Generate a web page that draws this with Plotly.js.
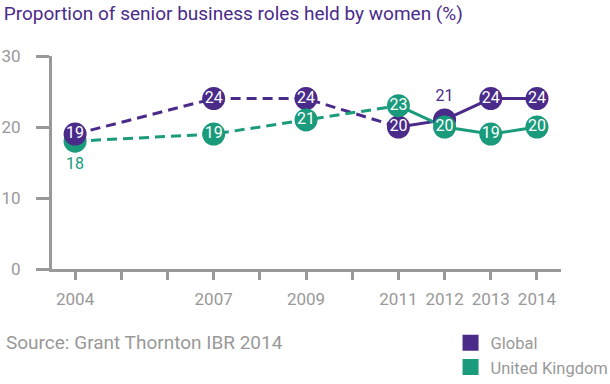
<!DOCTYPE html>
<html>
<head>
<meta charset="utf-8">
<script src="https://cdn.plot.ly/plotly-3.0.1.min.js"></script>
<style>html,body{margin:0;padding:0;background:#fff;}#chart{width:610px;height:384px;}</style>
</head>
<body>
<div id="chart"></div>
<script>
// ---- data ----
const years = [2004, 2007, 2009, 2011, 2012, 2013, 2014];
const globalVals = [19, 24, 24, 20, 21, 24, 24];
const ukVals = [18, 19, 21, 23, 20, 19, 20];
const tickYears = [2004, 2005, 2006, 2007, 2008, 2009, 2010, 2011, 2012, 2013, 2014];
const tickLabels = ['2004', '', '', '2007', '', '2009', '', '2011', '2012', '2013', '2014'];
const seriesNames = ['Global', 'United Kingdom'];
const dashedUntil = 2011;
const titleText = 'Proportion of senior business roles held by women (%)';
const sourceText = 'Source: Grant Thornton IBR 2014';

// ---- style ----
const PURPLE = '#4a2b8a';
const GREEN = '#1a9b7c';
const GREY = '#999999';
const FONT = 'Roboto, "Liberation Sans", sans-serif';

function pick(arr, idx) { return idx.map(i => arr[i]); }
const allIdx = years.map((_, i) => i);
const dashIdx = allIdx.filter(i => years[i] <= dashedUntil);
const solidIdx = allIdx.filter(i => years[i] >= dashedUntil);

function lineTrace(vals, idx, color, dash) {
  return {
    x: pick(years, idx), y: pick(vals, idx), mode: 'lines', type: 'scatter',
    line: {color: color, width: 3, dash: dash}, showlegend: false, hoverinfo: 'skip'
  };
}

// special label placements
const globalPos = years.map(y => y === 2012 ? 'top center' : 'middle center');
const globalTxtColor = years.map(y => y === 2012 ? PURPLE : '#ffffff');
const ukPos = years.map(y => y === 2004 ? 'bottom center' : 'middle center');
const ukTxtColor = years.map(y => y === 2004 ? GREEN : '#ffffff');

function markerTrace(vals, idx, color, pos, txtColor) {
  return {
    x: pick(years, idx), y: pick(vals, idx), mode: 'markers+text', type: 'scatter',
    marker: {size: 23, color: color, line: {width: 0}},
    text: pick(vals, idx).map(String),
    textposition: pick(pos, idx),
    textfont: {family: FONT, size: 16, color: pick(txtColor, idx)},
    showlegend: false, hoverinfo: 'skip', cliponaxis: false
  };
}

const ukFirst = allIdx.filter(i => years[i] === 2004);
const ukRest = allIdx.filter(i => years[i] !== 2004);

const data = [
  lineTrace(globalVals, dashIdx, PURPLE, '10px,6px'),
  lineTrace(ukVals, dashIdx, GREEN, '10px,6px'),
  lineTrace(globalVals, solidIdx, PURPLE, 'solid'),
  lineTrace(ukVals, solidIdx, GREEN, 'solid'),
  markerTrace(ukVals, ukFirst, GREEN, ukPos, ukTxtColor),
  markerTrace(globalVals, allIdx, PURPLE, globalPos, globalTxtColor),
  markerTrace(ukVals, ukRest, GREEN, ukPos, ukTxtColor),
  {x: [null], y: [null], mode: 'markers', type: 'scatter', name: seriesNames[0],
   marker: {symbol: 'square', size: 16, color: PURPLE}},
  {x: [null], y: [null], mode: 'markers', type: 'scatter', name: seriesNames[1],
   marker: {symbol: 'square', size: 16, color: GREEN}}
];

const layout = {
  width: 610, height: 384,
  margin: {l: 52, r: 49, t: 56, b: 115, pad: 0, autoexpand: false},
  paper_bgcolor: '#ffffff', plot_bgcolor: '#ffffff',
  font: {family: FONT, color: GREY},
  title: {
    text: titleText, font: {family: FONT, size: 19, color: PURPLE},
    xref: 'container', yref: 'container', x: 0.006, xanchor: 'left', y: 0.965, yanchor: 'middle'
  },
  xaxis: {
    range: [2003.5, 2014.52], tickvals: tickYears, ticktext: tickLabels, tickangle: 0,
    ticks: 'outside', ticklen: 8, tickwidth: 3, tickcolor: GREY,
    showline: true, linecolor: GREY, linewidth: 3, showgrid: false, zeroline: false,
    tickfont: {family: FONT, size: 17, color: GREY}, ticklabelstandoff: 5,
    automargin: false, fixedrange: true
  },
  yaxis: {
    range: [0, 30], tickvals: [0, 10, 20, 30],
    ticks: 'outside', ticklen: 13, tickwidth: 3, tickcolor: GREY,
    showline: true, linecolor: GREY, linewidth: 3, showgrid: false, zeroline: false,
    tickfont: {family: FONT, size: 17, color: GREY}, ticklabelstandoff: 12,
    automargin: false, fixedrange: true
  },
  showlegend: true,
  legend: {
    x: 0.783, xanchor: 'left', y: -0.265, yanchor: 'top',
    font: {family: FONT, size: 16.5, color: GREY}, bgcolor: 'rgba(0,0,0,0)',
    tracegroupgap: 0, itemclick: false, itemdoubleclick: false
  },
  annotations: [{
    text: sourceText, xref: 'paper', yref: 'paper', x: -0.094, y: -0.343,
    xanchor: 'left', yanchor: 'middle', showarrow: false,
    font: {family: FONT, size: 19, color: GREY}
  }],
  hovermode: false
};

Plotly.newPlot('chart', data, layout, {displayModeBar: false, staticPlot: true});
</script>
</body>
</html>
